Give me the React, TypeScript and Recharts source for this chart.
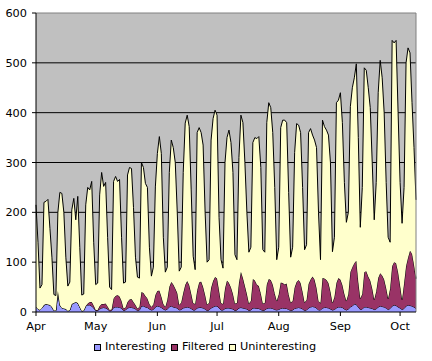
import {
  AreaChart,
  Area,
  XAxis,
  YAxis,
  CartesianGrid,
  Legend,
  ReferenceLine,
} from "recharts";

const FONT = "'DejaVu Sans', Verdana, sans-serif";

const monthTicks = [0, 30, 61, 91, 122, 153, 183];
const monthLabels = ["Apr", "May", "Jun", "Jul", "Aug", "Sep", "Oct"];
const yTicks = [0, 100, 200, 300, 400, 500, 600];

// daily totals (top of the stack), Thu 1 Apr .. Sat 9 Oct
const totals = [
  215, 140, 48, 55,
  220, 222, 226, 168, 110, 35, 33,
  200, 240, 238, 200, 110, 52, 60,
  205, 228, 185, 232, 130, 34, 36,
  215, 250, 245, 262, 140, 55, 58,
  235, 280, 252, 260, 150, 50, 45,
  262, 272, 262, 266, 150, 58, 60,
  275, 290, 288, 210, 110, 70, 68,
  300, 290, 258, 250, 130, 72, 90,
  251, 318, 352, 318, 150, 80, 90,
  280, 345, 330, 300, 200, 82, 90,
  280, 379, 395, 372, 245, 112, 85,
  360, 370, 360, 335, 200, 100, 105,
  345, 388, 405, 395, 190, 105, 88,
  300, 350, 365, 340, 280, 115, 105,
  310, 395, 380, 300, 200, 120, 130,
  340, 350, 348, 352, 290, 125, 120,
  380, 420, 410, 360, 250, 105, 130,
  370, 385, 385, 380, 240, 110, 130,
  320, 378, 375, 360, 250, 125, 135,
  360, 368, 355, 345, 330, 200, 105,
  385, 372, 365, 355, 300, 121, 150,
  420, 425, 440, 380, 260, 180, 200,
  412, 450, 470, 498, 350, 170, 250,
  490, 485, 450, 410, 300, 185, 260,
  440, 505, 470, 400, 260, 150, 140,
  545, 540, 545, 400, 260, 178, 250,
  500, 530, 520, 420, 330, 225,
];

const interesting = [
  10, 6, 4, 8,
  14, 16, 15, 14, 10, 3, 3,
  42, 14, 8, 7, 6, 2, 4,
  16, 18, 20, 18, 10, 2, 3,
  12, 14, 14, 12, 8, 3, 3,
  6, 8, 9, 8, 6, 2, 3,
  9, 10, 10, 9, 8, 3, 4,
  8, 9, 9, 8, 6, 3, 4,
  12, 12, 10, 9, 6, 4, 5,
  10, 12, 11, 9, 6, 4, 6,
  10, 12, 10, 9, 8, 4, 5,
  8, 9, 10, 9, 7, 4, 4,
  8, 9, 9, 8, 6, 3, 4,
  8, 10, 12, 12, 8, 4, 4,
  7, 8, 8, 7, 6, 3, 4,
  8, 9, 8, 7, 6, 3, 4,
  8, 8, 7, 7, 5, 3, 4,
  7, 8, 8, 7, 5, 4, 5,
  7, 8, 7, 7, 5, 3, 4,
  7, 8, 9, 8, 6, 3, 4,
  8, 10, 11, 10, 8, 4, 4,
  8, 9, 9, 8, 6, 4, 5,
  8, 10, 10, 9, 6, 4, 6,
  10, 12, 16, 15, 10, 5, 6,
  10, 10, 9, 8, 7, 5, 6,
  10, 12, 11, 10, 8, 5, 7,
  12, 14, 13, 10, 8, 5, 7,
  12, 14, 13, 12, 10, 7,
];

const filtered = [
  0, 0, 0, 0,
  0, 0, 0, 0, 0, 0, 0,
  0, 0, 0, 0, 0, 0, 0,
  0, 0, 0, 0, 0, 0, 0,
  0, 3, 6, 8, 5, 1, 1,
  6, 8, 7, 9, 5, 2, 2,
  18, 22, 24, 22, 14, 4, 5,
  12, 16, 17, 12, 8, 4, 6,
  28, 26, 22, 18, 10, 6, 10,
  24, 30, 32, 22, 10, 6, 18,
  40, 48, 45, 38, 30, 10, 14,
  30, 45, 52, 45, 30, 14, 12,
  35, 50, 52, 42, 28, 12, 14,
  40, 52, 58, 55, 35, 14, 12,
  40, 55, 50, 42, 30, 14, 14,
  50, 72, 60, 45, 30, 14, 18,
  58, 55, 48, 45, 32, 14, 14,
  48, 58, 56, 48, 32, 18, 30,
  52, 50, 48, 50, 30, 16, 18,
  42, 52, 55, 50, 34, 16, 20,
  48, 55, 60, 55, 40, 18, 14,
  60, 58, 55, 50, 35, 14, 25,
  50, 58, 55, 45, 30, 18, 30,
  70, 78, 82, 88, 50, 22, 30,
  70, 72, 62, 55, 40, 20, 35,
  58, 66, 62, 55, 40, 22, 40,
  80, 86, 85, 70, 45, 20, 50,
  80, 95, 110, 105, 85, 60,
];

const series = [
  { key: "interesting", name: "Interesting", color: "#9999FF" },
  { key: "filtered", name: "Filtered", color: "#993366" },
  { key: "uninteresting", name: "Uninteresting", color: "#FFFFCC" },
];

const data = totals.map((t, i) => ({
  day: i,
  interesting: interesting[i],
  filtered: filtered[i],
  uninteresting: t - interesting[i] - filtered[i],
}));

const renderLegend = () => (
  <div
    style={{
      display: "flex",
      alignItems: "center",
      fontFamily: FONT,
      fontSize: 11.3,
      lineHeight: "14px",
      color: "#000",
    }}
  >
    {series.map((s) => (
      <span
        key={s.key}
        style={{ display: "flex", alignItems: "center", marginRight: 5 }}
      >
        <span
          style={{
            display: "inline-block",
            width: 5,
            height: 5,
            background: s.color,
            border: "1px solid #000",
            marginRight: 4,
          }}
        />
        {s.name}
      </span>
    ))}
  </div>
);

const App = () => {
  return (
    <div style={{ position: "absolute", left: 0, top: 0, width: 432, height: 361, background: "#fff" }}>
      <AreaChart
        width={432}
        height={361}
        data={data}
        margin={{ top: 13, right: 16, left: 0, bottom: 19 }}
      >
        <CartesianGrid
          fill="#C0C0C0"
          stroke="#000"
          vertical={false}
          horizontalValues={[100, 200, 300, 400, 500]}
        />
        <XAxis
          dataKey="day"
          type="number"
          domain={[0, 191]}
          ticks={monthTicks}
          tickFormatter={(v: number) => monthLabels[monthTicks.indexOf(v)]}
          height={30}
          tickSize={4}
          tickMargin={6}
          stroke="#000"
          tick={{ fill: "#000", fontSize: 11.3, fontFamily: FONT }}
          interval={0}
        />
        <YAxis
          domain={[0, 600]}
          ticks={yTicks}
          width={36}
          tickSize={4}
          tickMargin={5}
          stroke="#000"
          tick={{ fill: "#000", fontSize: 11.3, fontFamily: FONT }}
          interval={0}
        />
        <ReferenceLine y={600} stroke="#808080" />
        <ReferenceLine x={191} stroke="#808080" />
        {series.map((s) => (
          <Area
            key={s.key}
            type="linear"
            dataKey={s.key}
            name={s.name}
            stackId="1"
            stroke="#000"
            strokeWidth={1}
            fill={s.color}
            fillOpacity={1}
            isAnimationActive={false}
          />
        ))}
        <Legend
          verticalAlign="middle"
          align="center"
          layout="horizontal"
          content={renderLegend}
          wrapperStyle={{ top: 340, left: 94, width: "auto" }}
        />
      </AreaChart>
    </div>
  );
};

export default App;
